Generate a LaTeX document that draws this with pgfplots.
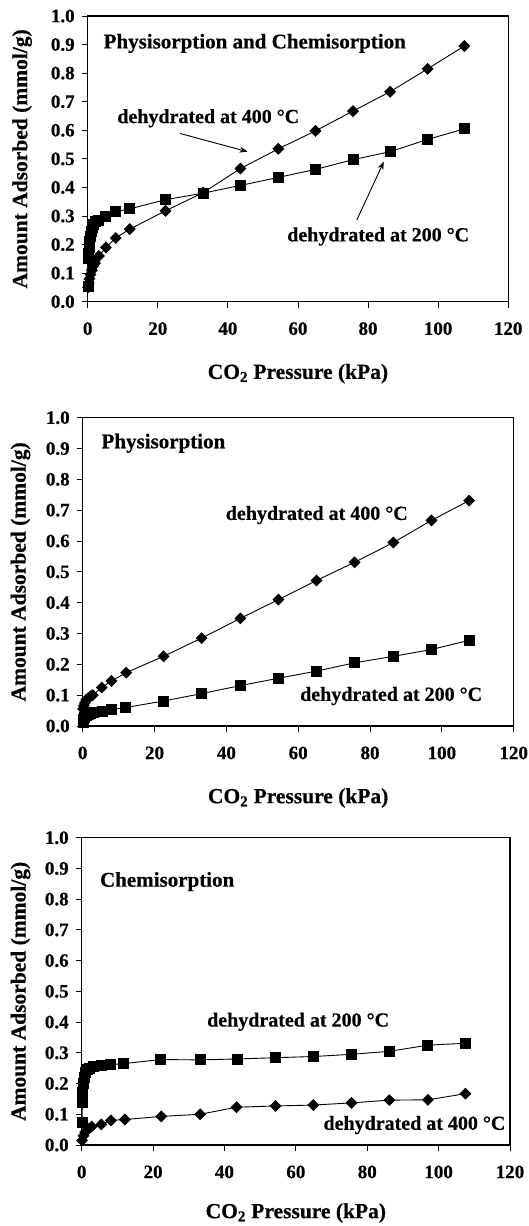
\documentclass[border=0pt]{standalone}
\usepackage{pgfplots}
\pgfplotsset{compat=1.18}
\usepackage{fontspec}
\setmainfont{Liberation Serif}[BoldFeatures={FakeBold=0.5}]
\usetikzlibrary{arrows.meta}

\newcommand{\tickfont}{\fontsize{19}{22}\selectfont\bfseries}
\newcommand{\labfont}{\fontsize{21.5}{25}\selectfont\bfseries}
\newcommand{\annfont}{\fontsize{20}{24}\selectfont\bfseries}
\newcommand{\ttlfont}{\fontsize{21}{25}\selectfont\bfseries}

\pgfplotsset{
  isotherm/.style={
    scale only axis, anchor=south west,
    xmin=0, xmax=120, ymin=0, ymax=1,
    xtick={0,20,40,60,80,100,120},
    ytick={0,0.1,0.2,0.3,0.4,0.5,0.6,0.7,0.8,0.9,1.0},
    tick pos=left, tick align=outside, major tick length=6pt,
    tick style={black, line width=0.8pt},
    axis line style={black, line width=1.1pt},
    /pgf/number format/assume math mode=true,
    ticklabel style={font=\tickfont},
    yticklabel style={xshift=-3.5pt, /pgf/number format/.cd, fixed, fixed zerofill, precision=1},
    xticklabel style={yshift=-11pt, /pgf/number format/.cd, fixed, precision=0},
    xlabel={CO\textsubscript{2} Pressure (kPa)},
    ylabel={Amount Adsorbed (mmol/g)},
    label style={font=\labfont},
    xlabel style={at={(axis description cs:0.5,0)}, anchor=center, yshift=-72pt},
  },
}
\tikzset{
  sq/.style={black, line width=0.9pt, mark=square*, mark size=5pt, mark options={solid, fill=black}},
  dm/.style={black, line width=0.9pt, mark=square*, mark size=3.75pt, mark options={solid, fill=black, rotate=45}},
  ann/.style={anchor=west, inner sep=0pt, font=\annfont},
  ttl/.style={anchor=west, inner sep=0pt, font=\ttlfont},
  arr/.style={black, line width=0.9pt, -{Stealth[length=8pt, width=6pt]}},
}

\begin{document}
\begin{tikzpicture}
\useasboundingbox (0pt,0pt) rectangle (529pt,1226pt);

% Total uptake
\begin{axis}[isotherm, at={(87.7pt,924.3pt)}, width=420.5pt, height=285.7pt,
  ylabel style={at={(axis description cs:-0.156,0.5)}, anchor=center}]
\addplot[sq] coordinates {
 (0.1,0.055) (0.2,0.15) (0.3,0.17) (0.4,0.19) (0.6,0.21) (0.8,0.23)
 (1.0,0.245) (1.3,0.26) (1.7,0.27) (2.2,0.28) (3.0,0.285) (5.2,0.300)
 (8.0,0.315) (12.0,0.325) (22.2,0.357) (33.0,0.380) (43.6,0.407)
 (54.4,0.435) (65.0,0.463) (75.7,0.497) (86.3,0.525) (97.0,0.568) (107.5,0.605)
};
\addplot[dm] coordinates {
 (0.1,0.050) (0.3,0.065) (0.5,0.080) (0.8,0.095) (1.2,0.110) (1.6,0.125)
 (2.1,0.135) (3.2,0.160) (5.2,0.190) (8.0,0.223) (12.0,0.254) (22.2,0.318)
 (33.0,0.382) (43.6,0.466) (54.4,0.535) (65.0,0.598) (75.7,0.667)
 (86.3,0.735) (97.0,0.815) (107.5,0.895)
};
\node[ttl] at (axis cs:4.5,0.904) {Physisorption and Chemisorption};
\node[ann] at (axis cs:8.4,0.642) {dehydrated at 400 °C};
\draw[arr] (axis cs:26.3,0.589) -- (axis cs:45.6,0.525);
\node[ann] at (axis cs:56.9,0.228) {dehydrated at 200 °C};
\draw[arr] (axis cs:76.8,0.286) -- (axis cs:84.5,0.490);
\end{axis}

% Physisorbed part
\begin{axis}[isotherm, at={(82.7pt,500pt)}, width=431pt, height=308.3pt,
  ylabel style={at={(axis description cs:-0.1443,0.5)}, anchor=center}]
\addplot[dm] coordinates {
 (0.1,0.055) (0.3,0.065) (0.6,0.075) (1.0,0.085) (1.5,0.090) (2.2,0.097)
 (2.8,0.100) (5.3,0.125) (8.0,0.146) (12.1,0.173) (22.5,0.226) (33.1,0.285)
 (43.9,0.349) (54.5,0.410) (65.1,0.472) (75.7,0.531) (86.5,0.595)
 (97.1,0.667) (107.6,0.731)
};
\addplot[sq] coordinates {
 (0.1,0.010) (0.3,0.020) (0.6,0.028) (1.0,0.033) (1.5,0.037) (2.2,0.040)
 (3.0,0.043) (5.5,0.047) (8.0,0.053) (12.0,0.060) (22.5,0.081) (33.1,0.105)
 (43.9,0.131) (54.5,0.155) (65.1,0.178) (75.7,0.205) (86.5,0.226)
 (97.1,0.248) (107.6,0.278)
};
\node[ttl] at (axis cs:5.2,0.917) {Physisorption};
\node[ann] at (axis cs:39.8,0.684) {dehydrated at 400 °C};
\node[ann] at (axis cs:60.5,0.097) {dehydrated at 200 °C};
\end{axis}

% Chemisorbed part
\begin{axis}[isotherm, at={(81.7pt,81pt)}, width=428.3pt, height=307.3pt,
  ylabel style={at={(axis description cs:-0.1429,0.5)}, anchor=center},
  xlabel style={yshift=4pt}]
\addplot[sq] coordinates {
 (0.1,0.072) (0.2,0.140) (0.3,0.170) (0.5,0.200) (0.7,0.220) (1.0,0.235)
 (1.5,0.245) (2.2,0.250) (3.2,0.255) (5.5,0.258) (8.0,0.261) (11.8,0.265)
 (22.2,0.278) (33.2,0.277) (43.6,0.280) (54.3,0.284) (64.9,0.288)
 (75.6,0.295) (86.3,0.305) (97.0,0.325) (107.5,0.331)
};
\addplot[dm] coordinates {
 (0.1,0.015) (0.5,0.030) (1.0,0.042) (1.8,0.052) (2.8,0.060) (5.5,0.067)
 (8.2,0.080) (12.1,0.083) (22.3,0.093) (33.2,0.100) (43.4,0.123)
 (54.3,0.127) (64.9,0.130) (75.6,0.137) (86.2,0.146) (97.0,0.147) (107.5,0.167)
};
\node[ttl] at (axis cs:5.1,0.857) {Chemisorption};
\node[ann] at (axis cs:35.1,0.401) {dehydrated at 200 °C};
\node[ann] at (axis cs:67.7,0.065) {dehydrated at 400 °C};
\end{axis}
\end{tikzpicture}
\end{document}
